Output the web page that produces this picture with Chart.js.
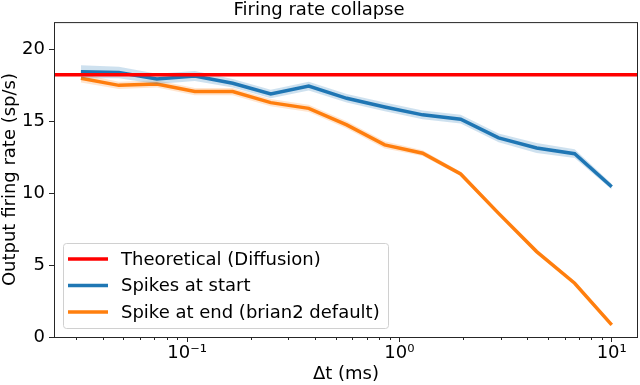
<!DOCTYPE html>
<html>
<head>
<meta charset="utf-8">
<script src="https://cdn.jsdelivr.net/npm/chart.js@4"></script>
<style>
  html, body { margin: 0; padding: 0; background: #fff; }
  #wrap { width: 640px; height: 385px; }
</style>
</head>
<body>
<div id="wrap"><canvas id="rateChart"></canvas></div>
<script>
// Time steps (ms), log spaced
const dtValues = [0.0316, 0.0477, 0.0720, 0.1087, 0.164, 0.2477, 0.374, 0.5647, 0.8526, 1.287, 1.943, 2.933, 4.43, 6.69, 10];

// Output firing rates (sp/s)
const startRate = [18.45, 18.4, 17.95, 18.15, 17.65, 16.9, 17.45, 16.6, 16.0, 15.45, 15.15, 13.85, 13.15, 12.75, 10.45];
const startErr  = [0.45, 0.4, 0.35, 0.35, 0.3, 0.3, 0.3, 0.3, 0.3, 0.3, 0.3, 0.3, 0.35, 0.3, 0.2];
const endRate   = [18.0, 17.5, 17.6, 17.07, 17.07, 16.3, 15.9, 14.75, 13.36, 12.78, 11.34, 8.6, 5.94, 3.74, 0.84];
const endErr    = [0.3, 0.25, 0.25, 0.25, 0.25, 0.25, 0.25, 0.25, 0.25, 0.2, 0.15, 0.1, 0.1, 0.1, 0.1];
const theoryRate = 18.23;

const seriesNames = ['Theoretical (Diffusion)', 'Spikes at start', 'Spike at end (brian2 default)'];

// axes
const xMin = 0.0236, xMax = 13.3;
const xMajorTicks = [0.1, 1, 10];
const xMajorLabels = ['10\u207B\u00B9', '10\u2070', '10\u00B9'];
const yMin = 0, yMax = 21.9;
const yTicks = [0, 5, 10, 15, 20];

const RED = '#ff0000', BLUE = '#1f77b4', ORANGE = '#ff7f0e';
const FONT = "'DejaVu Sans', sans-serif";
const FS = 18;

const pts = (ys) => dtValues.map((x, i) => ({ x: x, y: ys[i] }));
const shifted = (ys, errs, s) => ys.map((v, i) => v + s * errs[i]);

// frame around the plot, minor ticks and the legend box
const framePlugin = {
    id: 'frame',
    afterDraw(chart) {
        const { ctx, chartArea: a, scales } = chart;
        ctx.save();
        ctx.strokeStyle = '#262626';
        ctx.lineWidth = 1;
        ctx.strokeRect(a.left + 0.5, a.top + 0.5, a.right - a.left - 1, a.bottom - a.top);

        // minor x ticks
        ctx.beginPath();
        for (let d = -2; d <= 1; d++) {
            for (let m = 2; m <= 9; m++) {
                const v = m * Math.pow(10, d);
                if (v < xMin || v > xMax) continue;
                const px = Math.round(scales.x.getPixelForValue(v)) + 0.5;
                ctx.moveTo(px, a.bottom);
                ctx.lineTo(px, a.bottom + 3);
            }
        }
        ctx.stroke();

        // legend
        const bx = a.left + 9, by = a.bottom - 94, bw = 325, bh = 85;
        ctx.fillStyle = 'rgba(255,255,255,0.8)';
        ctx.strokeStyle = '#d0d0d0';
        ctx.beginPath();
        ctx.roundRect(bx + 0.5, by + 0.5, bw, bh, 3);
        ctx.fill();
        ctx.stroke();
        const colors = [RED, BLUE, ORANGE];
        ctx.font = FS + 'px ' + FONT;
        ctx.textBaseline = 'middle';
        seriesNames.forEach((name, i) => {
            const y = by + 16 + i * 26.5;
            ctx.strokeStyle = colors[i];
            ctx.lineWidth = 3.5;
            ctx.beginPath();
            ctx.moveTo(bx + 5, y);
            ctx.lineTo(bx + 45, y);
            ctx.stroke();
            ctx.fillStyle = '#000';
            ctx.fillText(name, bx + 58, y + 1);
        });
        ctx.restore();
    }
};

new Chart(document.getElementById('rateChart'), {
    type: 'line',
    data: {
        datasets: [
            {
                label: seriesNames[0],
                data: [{ x: xMin, y: theoryRate }, { x: xMax, y: theoryRate }],
                borderColor: RED, borderWidth: 3.5, pointRadius: 0, fill: false
            },
            {
                label: 'start upper',
                data: pts(shifted(startRate, startErr, 1)),
                borderWidth: 0, pointRadius: 0,
                backgroundColor: 'rgba(31,119,180,0.22)', fill: '+1'
            },
            {
                label: 'start lower',
                data: pts(shifted(startRate, startErr, -1)),
                borderWidth: 0, pointRadius: 0, fill: false
            },
            {
                label: seriesNames[1],
                data: pts(startRate),
                borderColor: BLUE, borderWidth: 3.5, pointRadius: 0, fill: false
            },
            {
                label: 'end upper',
                data: pts(shifted(endRate, endErr, 1)),
                borderWidth: 0, pointRadius: 0,
                backgroundColor: 'rgba(255,127,14,0.2)', fill: '+1'
            },
            {
                label: 'end lower',
                data: pts(shifted(endRate, endErr, -1)),
                borderWidth: 0, pointRadius: 0, fill: false
            },
            {
                label: seriesNames[2],
                data: pts(endRate),
                borderColor: ORANGE, borderWidth: 3.5, pointRadius: 0, fill: false
            }
        ]
    },
    options: {
        responsive: true,
        maintainAspectRatio: false,
        animation: false,
        layout: { padding: { top: 0, right: 2, left: 0, bottom: 0 } },
        plugins: {
            legend: { display: false },
            tooltip: { enabled: false },
            title: {
                display: true,
                text: 'Firing rate collapse',
                color: '#000',
                font: { family: FONT, size: FS, weight: 'normal' },
                padding: { top: 0, bottom: 0.5 }
            }
        },
        scales: {
            x: {
                type: 'logarithmic',
                min: xMin, max: xMax,
                afterBuildTicks: (s) => { s.ticks = xMajorTicks.map(v => ({ value: v })); },
                afterFit: (s) => { s.height = 48; },
                border: { display: false },
                grid: { drawOnChartArea: false, tickLength: 5, color: '#262626' },
                ticks: {
                    color: '#000', padding: 1, maxRotation: 0, autoSkip: false,
                    font: { family: FONT, size: FS },
                    callback: (v) => {
                        const i = xMajorTicks.indexOf(v);
                        return i >= 0 ? xMajorLabels[i] : '';
                    }
                },
                title: {
                    display: true, text: '\u0394t (ms)', color: '#000',
                    font: { family: FONT, size: FS }, padding: { top: 0, bottom: 0 }
                }
            },
            y: {
                min: yMin, max: yMax,
                afterBuildTicks: (s) => { s.ticks = yTicks.map(v => ({ value: v })); },
                afterFit: (s) => { s.width = 54; },
                border: { display: false },
                grid: { drawOnChartArea: false, tickLength: 5, color: '#262626' },
                ticks: {
                    color: '#000', padding: 4,
                    font: { family: FONT, size: FS }
                },
                title: {
                    display: true, text: 'Output firing rate (sp/s)', color: '#000',
                    font: { family: FONT, size: FS }, padding: { top: 0, bottom: 0 }
                }
            }
        }
    },
    plugins: [framePlugin]
});
</script>
</body>
</html>
